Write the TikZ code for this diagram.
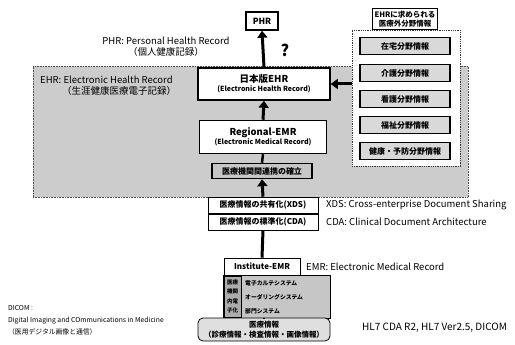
\documentclass[tikz,border=0pt]{standalone}
\usepackage{fontspec}
\setmainfont{Noto Sans CJK JP}
\usetikzlibrary{arrows.meta,positioning}
\tikzset{
  x=1pt,y=-1pt,
  box/.style={draw,line width=1.5pt,fill=white,inner sep=0pt,align=center,font=\bfseries\fontsize{8}{9}\selectfont},
  thinbox/.style={draw,line width=0.6pt,fill=white,inner sep=0pt,align=center,font=\bfseries\fontsize{8}{8}\selectfont},
  item/.style={draw,line width=1.3pt,fill=gray!30,inner sep=0pt,minimum width=90pt,minimum height=17pt,font=\bfseries\fontsize{8}{8}\selectfont},
  arr/.style={line width=3pt,-{Triangle[length=7pt,width=10pt]}},
  conn/.style={line width=2.5pt},
  lbl/.style={inner sep=0pt,font=\fontsize{9.5}{11}\selectfont,align=center},
}
\begin{document}
\begin{tikzpicture}
\useasboundingbox (0,0) rectangle (515,345);
% EHR gray region
\node[draw=black!70,densely dotted,line width=0.6pt,fill=gray!40,minimum width=435pt,minimum height=131pt,inner sep=0pt] (region) at (250.5,131.5) {};
% right dotted box
\node[draw=black!80,densely dotted,line width=0.8pt,fill=white,minimum width=108pt,minimum height=136pt,inner sep=0pt] (outer) at (406,98) {};
\node[draw,line width=0.8pt,fill=white,inner sep=2pt,align=center,font=\bfseries\fontsize{7.5}{9}\selectfont] (hdr) at (405,19) {EHRに求められる\\医療外分野情報};
\node[item] (i1) at (405,46) {在宅分野情報};
\node[item] (i2) at (405,73) {介護分野情報};
\node[item] (i3) at (405,99) {看護分野情報};
\node[item] (i4) at (405,125) {福祉分野情報};
\node[item] (i5) at (405,151) {健康・予防分野情報};

% center column
\node[box,minimum width=32pt,minimum height=18pt,font=\bfseries\fontsize{8.5}{9}\selectfont] (phr) at (262,21) {PHR};
\node[box,minimum width=132pt,minimum height=32pt] (jehr) at (264,84) {{\fontsize{9.5}{10.5}\selectfont 日本版EHR}\\{\fontsize{7}{8}\selectfont (Electronic Health Record)}};
\node[box,minimum width=127pt,minimum height=33pt] (reg) at (263,137) {{\fontsize{9.5}{10.5}\selectfont Regional-EMR}\\{\fontsize{7}{8}\selectfont (Electronic Medical Record)}};
\node[box,fill=gray!45,minimum width=100pt,minimum height=15pt] (kak) at (262,171) {医療機関間連携の確立};
\node[thinbox,minimum width=110pt,minimum height=16pt] (xds) at (263,205) {医療情報の共有化(XDS)};
\node[thinbox,minimum width=110pt,minimum height=16pt] (cda) at (263,222) {医療情報の標準化(CDA)};
\node[thinbox,minimum width=76pt,minimum height=17pt] (inst) at (262,266.5) {Institute-EMR};
\node[draw,line width=0.6pt,fill=gray!45,minimum width=107pt,minimum height=43pt,inner sep=0pt] (sys) at (276.5,296.5) {};
\node[draw,line width=0.5pt,fill=gray!65,minimum width=17pt,minimum height=41pt,inner sep=0pt,align=center,font=\bfseries\fontsize{5.5}{9.5}\selectfont] (vert) at (232.5,296.5) {医療\\機関\\内電\\子化};
\node[anchor=west,inner sep=0pt,font=\bfseries\fontsize{5.8}{6}\selectfont] (s1) at (245,283) {電子カルテシステム};
\node[anchor=west,inner sep=0pt,font=\bfseries\fontsize{5.8}{6}\selectfont] (s2) at (245,297) {オーダリングシステム};
\node[anchor=west,inner sep=0pt,font=\bfseries\fontsize{5.8}{6}\selectfont] (s3) at (245,311) {部門システム};
\node[draw,line width=0.8pt,fill=gray!25,rounded corners=5pt,minimum width=132pt,minimum height=23pt,inner sep=0pt,align=center,font=\bfseries\fontsize{7.5}{10}\selectfont] (iryo) at (264,329.5) {医療情報\\（診療情報・検査情報・画像情報）};

% connectors
\draw[arr] (jehr.north) -- (phr.south);
\draw[arr] (reg.north) -- (jehr.south);
\draw[conn] (kak.north) -- (reg.south);
\draw[arr] (xds.north) -- (kak.south);
\draw[conn,line width=1.5pt] (cda.north) -- (xds.south);
\draw[conn,line width=3pt] (cda.south) -- (inst.north);
\draw[conn] (sys.south -| iryo.north) -- (iryo.north);
\draw[arr] (outer.west |- jehr.east) -- (jehr.east);

% labels
\node[font=\fontsize{16}{16}\selectfont\bfseries,inner sep=0pt] (q) at (285,50) {?};
\node[lbl] (phrl) at (166,47) {PHR: Personal Health Record\\（個人健康記録）};
\node[lbl,align=left,anchor=north west] (ehrl) at (40,76) {EHR: Electronic Health Record\\\hspace*{22pt}（生涯健康医療電子記録）};
\node[lbl,anchor=west] (xdsl) at (326,205) {XDS: Cross-enterprise Document Sharing};
\node[lbl,anchor=west] (cdal) at (326,222) {CDA: Clinical Document Architecture};
\node[lbl,anchor=west] (emrl) at (306,266.5) {EMR: Electronic Medical Record};
\node[lbl,anchor=west,font=\fontsize{10}{11}\selectfont] (hl7) at (362,328) {HL7 CDA R2, HL7 Ver2.5, DICOM};
\node[lbl,anchor=north west,align=left,font=\fontsize{6.8}{12}\selectfont] (dicom) at (8,305) {DICOM :\\Digital Imaging and COmmunications in Medicine\\（医用デジタル画像と通信）};
\end{tikzpicture}
\end{document}
